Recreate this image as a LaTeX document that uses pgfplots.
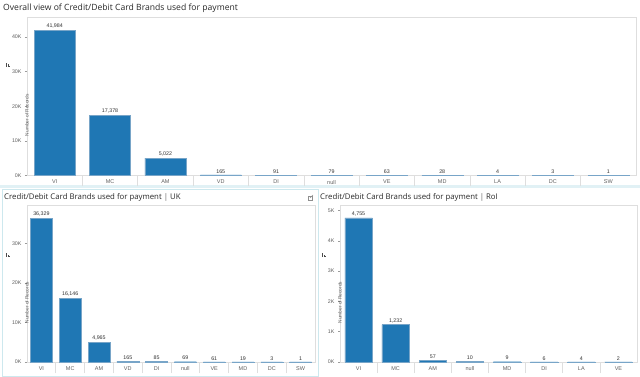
\documentclass[border=0pt]{standalone}
\usepackage{pgfplots}
\pgfplotsset{compat=1.18}
\usepackage{fontspec}
\setmainfont{Liberation Sans}
\newfontfamily\titlefont{Open Sans}
\definecolor{barblue}{RGB}{31,119,180}
\definecolor{edgeblue}{RGB}{120,165,200}
\definecolor{tickgray}{RGB}{95,95,95}
\definecolor{valgray}{RGB}{50,50,50}
\definecolor{framegray}{RGB}{222,222,222}
\definecolor{panelcyan}{RGB}{205,232,238}
\definecolor{titlegray}{RGB}{40,40,40}
\pgfplotsset{
  cardbar/.style={
    scale only axis, ybar, bar width=0.74, ymin=0,
    scaled y ticks=false,
    axis line style={draw=framegray, line width=0.6pt},
    xtick=data, xtick pos=bottom, ytick pos=left,
    tick align=outside,
    major x tick style={draw=none},
    major y tick style={draw=framegray!70!black, line width=0.4pt},
    major tick length=2pt,
    minor x tick style={draw=framegray, line width=0.6pt},
    minor tick length=11pt,
    x tick label style={font=\fontsize{5.5}{6}\selectfont, text=tickgray, yshift=1pt},
    y tick label style={font=\fontsize{5.3}{6}\selectfont, text=tickgray},
    /pgf/number format/assume math mode=true,
    /pgf/number format/1000 sep={,},
    nodes near coords,
    nodes near coords style={font=\fontsize{5.3}{6}\selectfont, text=valgray, inner sep=1.5pt},
    ylabel={Number of Records},
    every axis y label/.style={at={(rel axis cs:0,0.5)}, rotate=90, anchor=center, xshift=-19pt, font=\fontsize{4.8}{5}\selectfont, text=tickgray},
    clip=false,
  },
  cardplot/.style={fill=barblue, draw=edgeblue, line width=0.4pt},
}
\begin{document}
\begin{tikzpicture}[x=1pt,y=-1pt]
\path[use as bounding box, fill=white] (0,0) rectangle (640,377);
% panel frame bottom-left
\draw[panelcyan, line width=1pt] (2,189) rectangle (318,376);
\fill[panelcyan!60!white] (0,185) rectangle (640,188);
% titles
\node[anchor=base west, text=titlegray, inner sep=0] at (3,11) {\titlefont\fontsize{8.6}{9}\selectfont Overall view of Credit/Debit Card Brands used for payment};
\node[anchor=base west, text=titlegray, inner sep=0] at (4,200) {\titlefont\fontsize{7.8}{8}\selectfont Credit/Debit Card Brands used for payment \textcolor{tickgray}{|} UK};
\node[anchor=base west, text=titlegray, inner sep=0] at (320,200) {\titlefont\fontsize{7.8}{8}\selectfont Credit/Debit Card Brands used for payment \textcolor{tickgray}{|} RoI};
% small icons
\foreach \ix/\iy in {6/67, 6/257, 322/257}{
  \fill[tickgray!80!black] (\ix,\iy) rectangle +(0.9,-4);
  \fill[tickgray!80!black] (\ix+1.6,\iy) rectangle +(0.9,-2.5);
  \fill[tickgray!80!black] (\ix+3.2,\iy) rectangle +(0.9,-1);
}
\draw[tickgray!70, line width=0.5pt] (308,196) rectangle (312,200);
\draw[tickgray!70, line width=0.5pt] (310,198) -- (313,195);

% ---------- top axis ----------
\begin{axis}[cardbar,
  at={(27pt,-175.5pt)}, anchor=south west,
  width=609pt, height=158.5pt,
  xmin=-0.5, xmax=10.5, ymax=45800,
  ytick={0,10000,20000,30000,40000},
  yticklabels={0K,10K,20K,30K,40K},
  xticklabels={VI,MC,AM,VD,DI,null,VE,MD,LA,DC,SW},
  minor xtick={0.5,1.5,...,9.5},
]
\addplot[cardplot] coordinates {(0,41984) (1,17378) (2,5022) (3,165) (4,91) (5,79) (6,63) (7,28) (8,4) (9,3) (10,1)};
\end{axis}

% ---------- bottom-left axis (UK) ----------
\begin{axis}[cardbar,
  at={(27pt,-362pt)}, anchor=south west,
  width=288pt, height=157pt,
  xmin=-0.5, xmax=9.5, ymax=39650,
  bar width=0.76,
  ytick={0,10000,20000,30000},
  yticklabels={0K,10K,20K,30K},
  xticklabels={VI,MC,AM,VD,DI,null,VE,MD,DC,SW},
  minor xtick={0.5,1.5,...,8.5},
]
\addplot[cardplot] coordinates {(0,36329) (1,16146) (2,4965) (3,165) (4,85) (5,69) (6,61) (7,19) (8,3) (9,1)};
\end{axis}

% ---------- bottom-right axis (RoI) ----------
\begin{axis}[cardbar,
  at={(340pt,-362pt)}, anchor=south west,
  width=297pt, height=157pt,
  xmin=-0.5, xmax=7.5, ymax=5180,
  ytick={0,1000,2000,3000,4000,5000},
  yticklabels={0K,1K,2K,3K,4K,5K},
  xticklabels={VI,MC,AM,null,MD,DI,LA,VE},
  minor xtick={0.5,1.5,...,6.5},
]
\addplot[cardplot] coordinates {(0,4755) (1,1232) (2,57) (3,10) (4,9) (5,6) (6,4) (7,2)};
\end{axis}
\end{tikzpicture}
\end{document}
